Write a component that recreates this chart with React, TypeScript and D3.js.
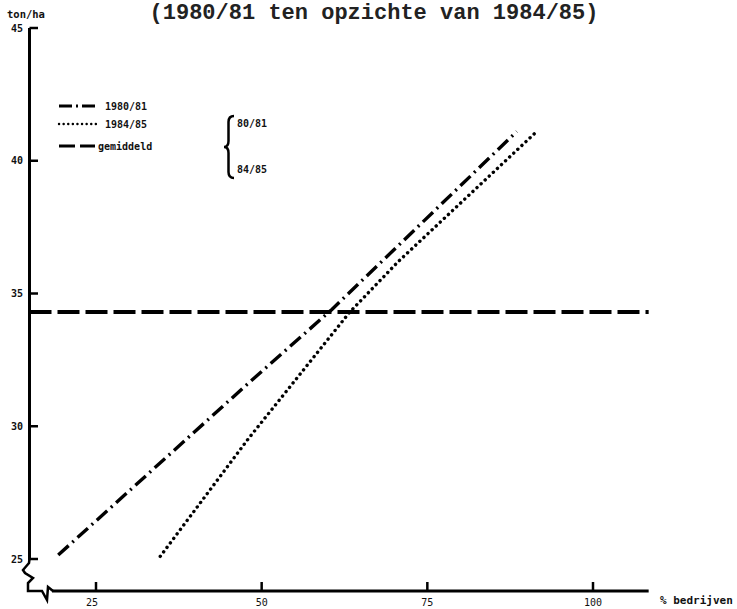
import React from "react";
import * as d3 from "d3";

// values
const title = "(1980/81 ten opzichte van 1984/85)";
const yLabel = "ton/ha";
const xLabel = "% bedrijven";

const seriesNames = ["1980/81", "1984/85", "gemiddeld"];

const pct8081 = [19.3, 47.9, 60.6, 88.5];
const ton8081 = [25.15, 31.6, 34.4, 41.1];

const pct8485 = [34.7, 47.9, 63.3, 70.6, 91.5];
const ton8485 = [25.1, 29.5, 34.3, 36.2, 41.1];

const gemiddeld = 34.3;

const xTicks = [25, 50, 75, 100];
const yTicks = [25, 30, 35, 40, 45];
const xExtent = [14.8, 108.4];

const braceLabels = ["80/81", "84/85"];

const W = 737;
const H = 609;

export default function App() {
  const x = d3.scaleLinear().domain([25, 100]).range([96, 593]);
  const y = d3.scaleLinear().domain([25, 45]).range([559, 28]);

  const line = d3
    .line<[number, number]>()
    .x((d) => x(d[0]))
    .y((d) => y(d[1]));

  const d8081 = line(pct8081.map((p, i) => [p, ton8081[i]] as [number, number]));
  const d8485 = line(pct8485.map((p, i) => [p, ton8485[i]] as [number, number]));

  const axisX = 29.5;
  const axisY = 591;
  const mono = "'DejaVu Sans Mono', monospace";

  // legend rows
  const legendY = [106, 124, 146];
  const legendDash = ["13 4 2 4", "0.1 4.5", "16 5"];
  const legendCap: ("butt" | "round")[] = ["butt", "round", "butt"];
  const legendTextX = [105, 105, 98];

  return (
    <div style={{ position: "absolute", left: 0, top: 0 }}>
      <svg width={W} height={H} style={{ display: "block", background: "#fff" }}>
        <text
          x={374}
          y={19}
          textAnchor="middle"
          fontFamily="'Liberation Mono', monospace"
          fontWeight="bold"
          fontSize={22}
          fill="#222"
        >
          {title}
        </text>

        <text x={7} y={18} fontFamily={mono} fontWeight="bold" fontSize={10.5} fill="#111">
          {yLabel}
        </text>

        {/* y axis with break */}
        <line x1={axisX} x2={axisX} y1={y(45)} y2={y(25) + 1} stroke="#000" strokeWidth={3} />
        <path
          d={`M${axisX},${y(25)} L29,563 L23,570 L25,573 L33,578 L28,583 L28,${axisY} L42,${axisY} L47,600 L48,587 L53,${axisY}`}
          fill="none"
          stroke="#000"
          strokeWidth={2.5}
          strokeLinejoin="miter"
        />
        {yTicks.map((t) => (
          <g key={t}>
            <line x1={axisX} x2={38} y1={y(t)} y2={y(t)} stroke="#000" strokeWidth={2.5} />
            <text
              x={23}
              y={y(t) + 3.5}
              textAnchor="end"
              fontFamily={mono}
              fontWeight="bold"
              fontSize={10}
              fill="#111"
            >
              {t}
            </text>
          </g>
        ))}

        {/* x axis */}
        <line x1={52} x2={x(xExtent[1])} y1={axisY} y2={axisY} stroke="#000" strokeWidth={3} />
        {xTicks.map((t) => (
          <g key={t}>
            <line x1={x(t)} x2={x(t)} y1={axisY} y2={axisY - 9} stroke="#000" strokeWidth={2.5} />
            <text
              x={x(t) - (t === 25 ? 4 : 0)}
              y={606}
              textAnchor="middle"
              fontFamily={mono}
              fontSize={10}
              fill="#111"
            >
              {t}
            </text>
          </g>
        ))}
        <text x={660} y={604} fontFamily={mono} fontWeight="bold" fontSize={11} fill="#111">
          {xLabel}
        </text>

        {/* average */}
        <line
          x1={axisX}
          x2={x(xExtent[1])}
          y1={y(gemiddeld)}
          y2={y(gemiddeld)}
          stroke="#000"
          strokeWidth={4}
          strokeDasharray="22 6"
        />

        {/* 1980/81 */}
        <path d={d8081 || ""} fill="none" stroke="#000" strokeWidth={3.4} strokeDasharray="14 5 2 5" />
        {/* 1984/85 */}
        <path
          d={d8485 || ""}
          fill="none"
          stroke="#000"
          strokeWidth={3.4}
          strokeLinecap="round"
          strokeDasharray="0.1 5.5"
        />

        {/* legend */}
        {seriesNames.map((s, i) => (
          <g key={s}>
            <line
              x1={59}
              x2={i === 2 ? 95 : 97}
              y1={legendY[i]}
              y2={legendY[i]}
              stroke="#000"
              strokeWidth={i === 1 ? 2.4 : 3}
              strokeLinecap={legendCap[i]}
              strokeDasharray={legendDash[i]}
            />
            <text
              x={legendTextX[i]}
              y={legendY[i] + 3.5}
              fontFamily={mono}
              fontWeight="bold"
              fontSize={10}
              fill="#111"
            >
              {s}
            </text>
          </g>
        ))}

        {/* brace */}
        <path
          d="M234,116 Q228.5,116 228.5,122 L228.5,141 Q228.5,147 224,147 Q228.5,147 228.5,153 L228.5,172 Q228.5,178 234,178"
          fill="none"
          stroke="#000"
          strokeWidth={2.5}
        />
        <text x={237} y={127} fontFamily={mono} fontWeight="bold" fontSize={10} fill="#111">
          {braceLabels[0]}
        </text>
        <text x={237} y={173} fontFamily={mono} fontWeight="bold" fontSize={10} fill="#111">
          {braceLabels[1]}
        </text>
      </svg>
    </div>
  );
}
